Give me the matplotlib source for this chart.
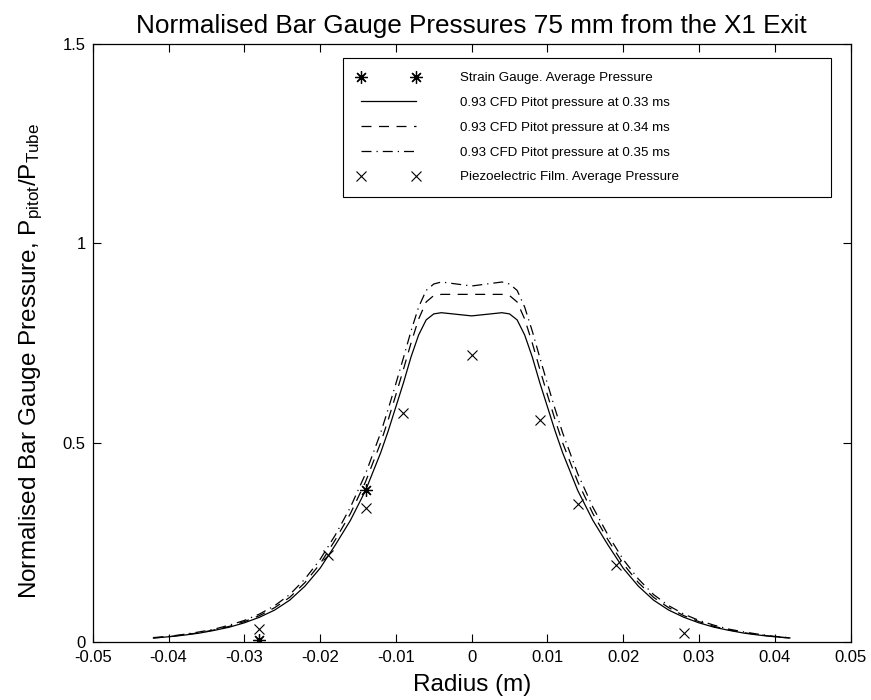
import matplotlib
matplotlib.use("Agg")
import matplotlib.pyplot as plt
from matplotlib.ticker import FixedLocator, FixedFormatter

plt.rcParams["font.family"] = ["Liberation Sans", "DejaVu Sans"]
plt.rcParams["axes.unicode_minus"] = False
plt.rcParams["mathtext.fontset"] = "custom"
plt.rcParams["mathtext.rm"] = "Liberation Sans"
plt.rcParams["mathtext.it"] = "Liberation Sans"

# CFD pitot pressure profiles (radius in m, normalised pressure)
radius = [-0.042, -0.040, -0.038, -0.036, -0.034, -0.032, -0.030, -0.028, -0.026,
          -0.024, -0.022, -0.020, -0.018, -0.016, -0.014, -0.012, -0.011, -0.010,
          -0.009, -0.008, -0.007, -0.006, -0.005, -0.004, -0.002, 0.0,
          0.002, 0.004, 0.005, 0.006, 0.007, 0.008, 0.009, 0.010, 0.011, 0.012,
          0.014, 0.016, 0.018, 0.020, 0.022, 0.024, 0.026, 0.028, 0.030, 0.032,
          0.034, 0.036, 0.038, 0.040, 0.042]

cfd_033 = [0.010, 0.013, 0.017, 0.022, 0.029, 0.037, 0.048, 0.062, 0.080,
           0.105, 0.140, 0.185, 0.243, 0.305, 0.380, 0.475, 0.530, 0.590,
           0.650, 0.715, 0.770, 0.808, 0.823, 0.826, 0.822, 0.818,
           0.822, 0.826, 0.823, 0.808, 0.770, 0.715, 0.650, 0.590, 0.530, 0.475,
           0.380, 0.305, 0.243, 0.185, 0.140, 0.105, 0.080, 0.062, 0.048, 0.037,
           0.029, 0.022, 0.017, 0.013, 0.010]

cfd_034 = [0.010, 0.013, 0.018, 0.023, 0.030, 0.039, 0.051, 0.066, 0.086,
           0.112, 0.149, 0.196, 0.256, 0.322, 0.402, 0.500, 0.558, 0.620,
           0.684, 0.750, 0.810, 0.853, 0.869, 0.872, 0.872, 0.872,
           0.872, 0.872, 0.869, 0.853, 0.810, 0.750, 0.684, 0.620, 0.558, 0.500,
           0.402, 0.322, 0.256, 0.196, 0.149, 0.112, 0.086, 0.066, 0.051, 0.039,
           0.030, 0.023, 0.018, 0.013, 0.010]

cfd_035 = [0.011, 0.014, 0.019, 0.025, 0.032, 0.042, 0.054, 0.070, 0.091,
           0.119, 0.158, 0.207, 0.268, 0.338, 0.422, 0.525, 0.585, 0.648,
           0.713, 0.780, 0.840, 0.882, 0.898, 0.903, 0.898, 0.893,
           0.898, 0.903, 0.898, 0.882, 0.840, 0.780, 0.713, 0.648, 0.585, 0.525,
           0.422, 0.338, 0.268, 0.207, 0.158, 0.119, 0.091, 0.070, 0.054, 0.042,
           0.032, 0.025, 0.019, 0.014, 0.011]

# measured pressures
strain_r = [-0.028, -0.014]
strain_p = [0.005, 0.382]

piezo_r = [-0.028, -0.019, -0.014, -0.009, 0.0, 0.009, 0.014, 0.019, 0.028]
piezo_p = [0.032, 0.217, 0.337, 0.575, 0.720, 0.558, 0.345, 0.193, 0.022]

x_ticks = [-0.05, -0.04, -0.03, -0.02, -0.01, 0, 0.01, 0.02, 0.03, 0.04, 0.05]
x_labels = ["-0.05", "-0.04", "-0.03", "-0.02", "-0.01", "0",
            "0.01", "0.02", "0.03", "0.04", "0.05"]
y_ticks = [0, 0.5, 1, 1.5]
y_labels = ["0", "0.5", "1", "1.5"]

fig = plt.figure(figsize=(8.71, 7.0), dpi=100)
ax = fig.add_axes([0.1065, 0.0829, 0.8700, 0.8542])

ax.plot(strain_r, strain_p, linestyle="none", marker=(8, 2, 0), markersize=9,
        markeredgewidth=0.9, color="black", label="Strain Gauge. Average Pressure")
ax.plot(radius, cfd_033, "-", color="black", linewidth=0.9,
        label="0.93 CFD Pitot pressure at 0.33 ms")
ax.plot(radius, cfd_034, color="black", linewidth=0.9, dashes=(8, 6),
        label="0.93 CFD Pitot pressure at 0.34 ms")
ax.plot(radius, cfd_035, color="black", linewidth=0.9, dashes=(8, 4, 1, 4),
        label="0.93 CFD Pitot pressure at 0.35 ms")
ax.plot(piezo_r, piezo_p, linestyle="none", marker="x", markersize=7,
        markeredgewidth=0.8, color="black",
        label="Piezoelectric Film. Average Pressure")

ax.set_xlim(-0.05, 0.05)
ax.set_ylim(0, 1.5)
ax.xaxis.set_major_locator(FixedLocator(x_ticks))
ax.xaxis.set_major_formatter(FixedFormatter(x_labels))
ax.yaxis.set_major_locator(FixedLocator(y_ticks))
ax.yaxis.set_major_formatter(FixedFormatter(y_labels))
ax.tick_params(direction="in", length=6, width=0.8, top=True, right=True,
               labelsize=12)
ax.tick_params(axis="x", pad=6)
ax.tick_params(axis="y", pad=5)
for sp in ax.spines.values():
    sp.set_linewidth(0.9)

ax.set_title("Normalised Bar Gauge Pressures 75 mm from the X1 Exit",
             fontsize=18.8, pad=8)
ax.set_xlabel("Radius (m)", fontsize=17.5, labelpad=6)
ax.set_ylabel(r"Normalised Bar Gauge Pressure, P$_{\mathrm{pitot}}$/P$_{\mathrm{Tube}}$",
              fontsize=17.5, labelpad=13)
ax.yaxis.label.set_y(0.47)

leg = ax.legend(loc="upper left",
                bbox_to_anchor=(343 / 871, 1 - 197 / 700, (831 - 343) / 871, 139 / 700),
                bbox_transform=fig.transFigure, mode="expand", fontsize=9.6,
                numpoints=2, handlelength=4.7, handletextpad=3.0,
                labelspacing=0.93, borderpad=1.05, fancybox=False, framealpha=1,
                borderaxespad=0)
leg.get_frame().set_edgecolor("black")
leg.get_frame().set_linewidth(0.8)

fig.savefig("out.png", dpi=100)
